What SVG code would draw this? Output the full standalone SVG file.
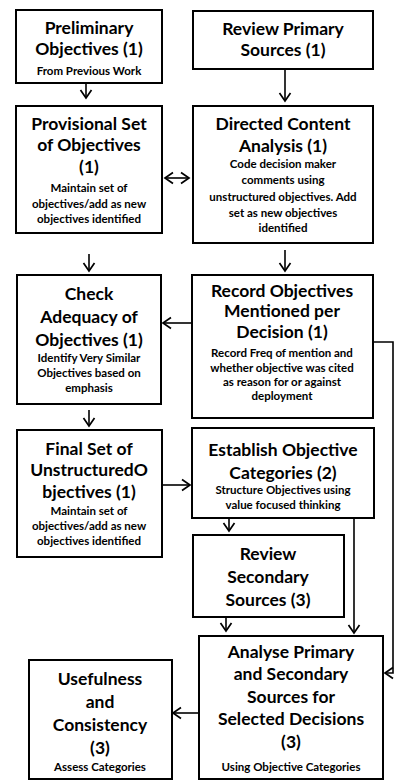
<svg xmlns="http://www.w3.org/2000/svg" width="397" height="781" viewBox="0 0 397 781">
<style>
.box{fill:#fff;stroke:#000;stroke-width:2}
.t{font-family:Lato,"Liberation Sans",sans-serif;font-weight:bold;font-size:17.5px;text-anchor:middle;fill:#000}
.s{font-family:Lato,"Liberation Sans",sans-serif;font-weight:bold;font-size:11.5px;text-anchor:middle;fill:#000}
.c{fill:none;stroke:#000;stroke-width:1.6}
</style>
<defs>
<marker id="ah" markerUnits="userSpaceOnUse" markerWidth="14" markerHeight="14" refX="10" refY="7" orient="auto">
<path d="M2,1.5 L10,7 L2,12.5" fill="none" stroke="#000" stroke-width="1.7"/>
</marker>
<marker id="as" markerUnits="userSpaceOnUse" markerWidth="14" markerHeight="14" refX="4" refY="7" orient="auto">
<path d="M12,1.5 L4,7 L12,12.5" fill="none" stroke="#000" stroke-width="1.7"/>
</marker>
</defs>
<rect width="397" height="781" fill="#fff"/>
<g id="connectors">
<line class="c" x1="86" y1="83" x2="86" y2="98" marker-end="url(#ah)"/>
<line class="c" x1="285" y1="69" x2="285" y2="101" marker-end="url(#ah)"/>
<line class="c" x1="165" y1="178" x2="189" y2="178" marker-start="url(#as)" marker-end="url(#ah)"/>
<line class="c" x1="89" y1="254" x2="89" y2="271" marker-end="url(#ah)"/>
<line class="c" x1="285" y1="250" x2="285" y2="271" marker-end="url(#ah)"/>
<line class="c" x1="192" y1="323" x2="163" y2="323" marker-end="url(#ah)"/>
<line class="c" x1="89" y1="410" x2="89" y2="426" marker-end="url(#ah)"/>
<line class="c" x1="162" y1="485" x2="190" y2="485" marker-end="url(#ah)"/>
<line class="c" x1="229" y1="518" x2="229" y2="531" marker-end="url(#ah)"/>
<line class="c" x1="226" y1="617" x2="226" y2="631" marker-end="url(#ah)"/>
<line class="c" x1="354" y1="518" x2="354" y2="633" marker-end="url(#ah)"/>
<line class="c" x1="199" y1="713" x2="173" y2="713" marker-end="url(#ah)"/>
<path class="c" d="M373,342 H393 V673 H385" marker-end="url(#ah)"/>
</g>
<g id="n1">
<rect class="box" x="16" y="10" width="146" height="73"/>
<text class="t" x="89" y="34">Preliminary</text>
<text class="t" x="89" y="55">Objectives (1)</text>
<text class="s" x="89" y="75">From Previous Work</text>
</g>
<g id="n2">
<rect class="box" x="193" y="11" width="180" height="58"/>
<text class="t" x="283" y="35">Review Primary</text>
<text class="t" x="283" y="56">Sources (1)</text>
</g>
<g id="n3">
<rect class="box" x="16" y="106" width="146" height="127"/>
<text class="t" x="89" y="130">Provisional Set</text>
<text class="t" x="89" y="151">of Objectives</text>
<text class="t" x="89" y="173">(1)</text>
<text class="s" x="89" y="192">Maintain set of</text>
<text class="s" x="89" y="208">objectives/add as new</text>
<text class="s" x="89" y="223">objectives identified</text>
</g>
<g id="n4">
<rect class="box" x="193" y="106" width="180" height="137"/>
<text class="t" x="283" y="130">Directed Content</text>
<text class="t" x="283" y="152">Analysis (1)</text>
<text class="s" x="283" y="168">Code decision maker</text>
<text class="s" x="283" y="184">comments using</text>
<text class="s" x="283" y="201">unstructured objectives. Add</text>
<text class="s" x="283" y="217">set as new objectives</text>
<text class="s" x="283" y="232">identified</text>
</g>
<g id="n5">
<rect class="box" x="17" y="275" width="144" height="129"/>
<text class="t" x="89" y="300">Check</text>
<text class="t" x="89" y="323">Adequacy of</text>
<text class="t" x="89" y="346">Objectives (1)</text>
<text class="s" x="89" y="362">Identify  Very Similar</text>
<text class="s" x="89" y="377">Objectives  based on</text>
<text class="s" x="89" y="392">emphasis</text>
</g>
<g id="n6">
<rect class="box" x="192" y="275" width="181" height="143"/>
<text class="t" x="282" y="297">Record Objectives</text>
<text class="t" x="282" y="317">Mentioned per</text>
<text class="t" x="282" y="338">Decision (1)</text>
<text class="s" x="282" y="357">Record Freq of mention and</text>
<text class="s" x="282" y="372">whether objective was cited</text>
<text class="s" x="282" y="386">as reason for or against</text>
<text class="s" x="282" y="400">deployment</text>
</g>
<g id="n7">
<rect class="box" x="17" y="430" width="145" height="127"/>
<text class="t" x="89" y="455">Final Set of</text>
<text class="t" x="89" y="476">UnstructuredO</text>
<text class="t" x="89" y="498">bjectives (1)</text>
<text class="s" x="89" y="515">Maintain set of</text>
<text class="s" x="89" y="530">objectives/add as new</text>
<text class="s" x="89" y="545">objectives identified</text>
</g>
<g id="n8">
<rect class="box" x="192" y="428" width="182" height="90"/>
<text class="t" x="283" y="456">Establish Objective</text>
<text class="t" x="283" y="479">Categories (2)</text>
<text class="s" x="283" y="494">Structure Objectives using</text>
<text class="s" x="283" y="509">value focused thinking</text>
</g>
<g id="n9">
<rect class="box" x="193" y="535" width="151" height="82"/>
<text class="t" x="268" y="560">Review</text>
<text class="t" x="268" y="583">Secondary</text>
<text class="t" x="268" y="606">Sources (3)</text>
</g>
<g id="n10">
<rect class="box" x="199" y="636" width="184" height="143"/>
<text class="t" x="291" y="658">Analyse Primary</text>
<text class="t" x="291" y="680">and Secondary</text>
<text class="t" x="291" y="703">Sources for</text>
<text class="t" x="291" y="725">Selected Decisions</text>
<text class="t" x="291" y="748">(3)</text>
<text class="s" x="291" y="771">Using Objective Categories</text>
</g>
<g id="n11">
<rect class="box" x="29" y="660" width="143" height="119"/>
<text class="t" x="100" y="685">Usefulness</text>
<text class="t" x="100" y="708">and</text>
<text class="t" x="100" y="731">Consistency</text>
<text class="t" x="100" y="754">(3)</text>
<text class="s" x="100" y="771">Assess Categories</text>
</g>
</svg>
